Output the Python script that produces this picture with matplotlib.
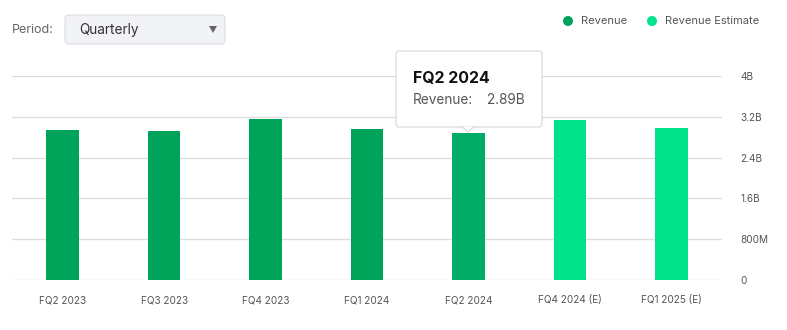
import numpy as np
import matplotlib.pyplot as plt
from matplotlib.patches import FancyBboxPatch, Polygon, Circle

plt.rcParams['font.family'] = ['Inter', 'DejaVu Sans']

quarters = ['FQ2 2023', 'FQ3 2023', 'FQ4 2023', 'FQ1 2024', 'FQ2 2024',
            'FQ4 2024 (E)', 'FQ1 2025 (E)']
revenue_b = [2.94, 2.92, 3.16, 2.96, 2.89, 3.14, 2.98]
is_estimate = [False, False, False, False, False, True, True]
yticks = [0, 0.8, 1.6, 2.4, 3.2, 4.0]
ytick_labels = ['0', '800M', '1.6B', '2.4B', '3.2B', '4B']

c_rev = '#00a35a'
c_hover = '#00ac68'
c_est = '#00e38a'
hover_idx = 4

W, H = 787, 330
fig = plt.figure(figsize=(W / 100, H / 100), dpi=100)

# main chart area in pixel terms: x 12..722, y 76..280
ax = fig.add_axes([12 / W, 1 - 280 / H, 710 / W, 204 / H])
x = np.arange(len(quarters))
colors = [c_est if e else c_rev for e in is_estimate]
colors[hover_idx] = c_hover
ax.bar(x, revenue_b, width=0.32, color=colors, zorder=3)
ax.set_xlim(-0.5, len(quarters) - 0.5)
ax.set_ylim(0, 4.0)
ax.set_yticks(yticks)
ax.set_yticklabels(ytick_labels)
ax.yaxis.tick_right()
ax.set_xticks(x)
ax.set_xticklabels(quarters)
ax.tick_params(axis='both', length=0, labelsize=7.2, colors='#555555')
ax.tick_params(axis='y', pad=13)
ax.tick_params(axis='x', pad=11)
ax.grid(axis='y', color='#dedede', linewidth=1, zorder=0)
for s in ax.spines.values():
    s.set_visible(False)

# overlay for controls, legend and tooltip
ui = fig.add_axes([0, 0, 1, 1], facecolor='none')
ui.set_xlim(0, W)
ui.set_ylim(H, 0)
ui.axis('off')

ui.text(12, 30, 'Period:', fontsize=9, color='#666666', va='center')
ui.add_patch(FancyBboxPatch((65, 15), 160, 29, boxstyle='round,pad=0,rounding_size=4',
                            facecolor='#f2f3f6', edgecolor='#dcdde1', linewidth=0.8))
ui.text(79, 30, 'Quarterly', fontsize=9.8, color='#333333', va='center')
ui.add_patch(Polygon([[209, 26], [217, 26], [213, 33]], closed=True,
                     facecolor='#666666', edgecolor='none'))

# legend
ui.add_patch(Circle((568, 21), 5, facecolor=c_rev, edgecolor='none'))
ui.text(581, 21, 'Revenue', fontsize=8, color='#555555', va='center')
ui.add_patch(Circle((652, 21), 5, facecolor=c_est, edgecolor='none'))
ui.text(665, 21, 'Revenue Estimate', fontsize=8, color='#555555', va='center')

# tooltip for the hovered bar
ui.add_patch(FancyBboxPatch((396, 51), 146, 76, boxstyle='round,pad=0,rounding_size=3',
                            facecolor='white', edgecolor='#d6d6d6', linewidth=0.8, zorder=5))
ui.add_patch(Polygon([[462, 126.6], [468, 132], [474, 126.6]], closed=False,
                     facecolor='white', edgecolor='#d6d6d6', linewidth=0.8, zorder=6))
ui.text(413, 78, quarters[hover_idx], fontsize=11.4, fontweight='bold', color='#111111',
        va='center', zorder=7)
ui.text(413, 100, 'Revenue:', fontsize=9.8, color='#555555', va='center', zorder=7)
ui.text(487, 100, f'{revenue_b[hover_idx]:.2f}B', fontsize=9.8, color='#555555',
        va='center', zorder=7)

fig.savefig('out.png', dpi=100)
